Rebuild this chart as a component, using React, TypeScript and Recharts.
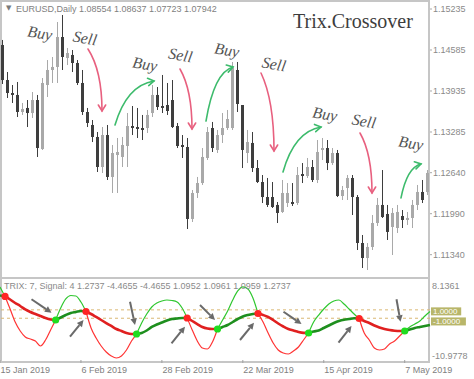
import React from 'react'
import { ComposedChart, Bar, Line, XAxis, YAxis, ReferenceLine, ReferenceDot } from 'recharts'

// EURUSD daily bars, one per trading day from 15 Jan 2019
const opens = [
  1.14664, 1.14109, 1.13903, 1.13872, 1.13602, 1.13666, 1.13586, 1.13792, 1.13015, 1.1403,
  1.14268, 1.14316, 1.14791, 1.14458, 1.14506, 1.14379, 1.14062, 1.13602, 1.13396, 1.13206,
  1.1273, 1.13237, 1.12572, 1.1292, 1.12889, 1.13063, 1.1338, 1.13364, 1.13348, 1.13348,
  1.13586, 1.13872, 1.13697, 1.13713, 1.13792, 1.1338, 1.13079, 1.13047, 1.11906, 1.12318,
  1.12476, 1.12873, 1.13348, 1.13, 1.13237, 1.13348, 1.13348, 1.14268, 1.13713, 1.12952,
  1.13111, 1.12714, 1.12492, 1.12254, 1.12254, 1.12128, 1.12017, 1.12159, 1.12175, 1.12159,
  1.12619, 1.12587, 1.1273, 1.12524, 1.13, 1.13031, 1.12793, 1.12952, 1.1227, 1.12397,
  1.12556, 1.12254, 1.11525, 1.11287, 1.11462, 1.11842, 1.12128, 1.11985, 1.11779, 1.11763,
  1.11953, 1.1189, 1.11922, 1.12128, 1.12334, 1.12334,
]
const highs = [
  1.14744, 1.14236, 1.1403, 1.14078, 1.13745, 1.13792, 1.13919, 1.13872, 1.14141, 1.14426,
  1.14474, 1.15029, 1.1514, 1.14617, 1.14585, 1.14426, 1.14268, 1.13666, 1.13475, 1.13285,
  1.13364, 1.13396, 1.13079, 1.1319, 1.13206, 1.13586, 1.13697, 1.13666, 1.13555, 1.13634,
  1.1403, 1.13998, 1.14189, 1.14062, 1.14109, 1.13428, 1.13237, 1.1319, 1.12365, 1.12572,
  1.13031, 1.13364, 1.13444, 1.13317, 1.13586, 1.13634, 1.14395, 1.14395, 1.13713, 1.13317,
  1.13285, 1.12841, 1.12603, 1.12556, 1.12492, 1.12175, 1.12524, 1.12476, 1.12476, 1.1273,
  1.12793, 1.12873, 1.12841, 1.13158, 1.1319, 1.13158, 1.13031, 1.13, 1.12429, 1.12603,
  1.12603, 1.12286, 1.11652, 1.11525, 1.11969, 1.12239, 1.12682, 1.12128, 1.1208, 1.12128,
  1.12048, 1.12017, 1.12207, 1.12445, 1.12524, 1.12682,
]
const lows = [
  1.14046, 1.13824, 1.13745, 1.13523, 1.13555, 1.13364, 1.13507, 1.12889, 1.13, 1.1384,
  1.14062, 1.14062, 1.14268, 1.14347, 1.14236, 1.1403, 1.13555, 1.13364, 1.13126, 1.12651,
  1.12635, 1.12524, 1.12318, 1.12318, 1.1273, 1.1273, 1.13237, 1.1319, 1.13158, 1.13269,
  1.13523, 1.13634, 1.13586, 1.13555, 1.13348, 1.13031, 1.12873, 1.11747, 1.11858, 1.12239,
  1.12445, 1.12841, 1.12968, 1.12952, 1.13111, 1.13317, 1.13317, 1.13602, 1.12714, 1.12793,
  1.12651, 1.12476, 1.12159, 1.12096, 1.1208, 1.11842, 1.12001, 1.12096, 1.12112, 1.12128,
  1.12476, 1.12556, 1.12492, 1.12476, 1.12841, 1.12682, 1.12762, 1.12254, 1.12207, 1.12207,
  1.11969, 1.11414, 1.11129, 1.11097, 1.11414, 1.11795, 1.11922, 1.11573, 1.11335, 1.11684,
  1.11763, 1.11811, 1.11763, 1.12048, 1.12159, 1.12286,
]
const closes = [
  1.14109, 1.13903, 1.13872, 1.13602, 1.1365, 1.13586, 1.13792, 1.13031, 1.14062, 1.14268,
  1.14316, 1.14791, 1.14474, 1.14537, 1.14379, 1.14062, 1.13602, 1.13428, 1.13206, 1.1273,
  1.13237, 1.12572, 1.12952, 1.12968, 1.13079, 1.1338, 1.13348, 1.13333, 1.13317, 1.13555,
  1.13872, 1.13681, 1.13666, 1.13618, 1.13364, 1.13063, 1.13047, 1.11906, 1.12318, 1.12476,
  1.12889, 1.13285, 1.13031, 1.13237, 1.13348, 1.13491, 1.143, 1.13729, 1.13, 1.13126,
  1.12714, 1.12492, 1.12254, 1.12128, 1.12096, 1.12001, 1.12318, 1.12318, 1.12143, 1.12603,
  1.12587, 1.1273, 1.12524, 1.12968, 1.13031, 1.12793, 1.12952, 1.1227, 1.12365, 1.12556,
  1.12254, 1.11525, 1.11287, 1.11462, 1.11842, 1.12128, 1.11937, 1.117, 1.12001, 1.12017,
  1.1189, 1.11922, 1.12128, 1.12334, 1.12207, 1.12635,
]

// TRIX(7) and its signal(4)
const trix = [
  6.47, 4.2, 1.21, -1.9, -4.05, -5.48, -5.96, -6.44, -7.63, -6.2,
  -3.81, -1.42, 1.45, 3.6, 4.43, 4.31, 2.88, 0.61, -3.33, -5.72,
  -7.63, -9.07, -10.02, -10.5, -10.02, -8.59, -6.44, -4.77, -2.14, 0.01,
  1.69, 2.64, 3.12, 3.36, 3.24, 2.88, 1.45, -0.94, -3.81, -6.44,
  -8.11, -8.35, -6.68, -3.57, -1.42, 0.73, 3.36, 5.51, 6.47, 5.99,
  3.84, 0.13, -1.9, -4.53, -6.92, -8.59, -9.3, -9.54, -8.83, -7.87,
  -6.2, -4.53, -1.9, -0.23, 1.21, 2.4, 3.12, 3.36, 2.4, 1.21,
  0.01, -1.06, -4.53, -6.2, -8.11, -8.59, -8.35, -7.15, -6.44, -5.24,
  -4.05, -3.09, -2.38, -1.66, -0.46, 0.61,
]
const signal = [
  4.43, 4.2, 3.48, 2.64, 1.93, 1.09, 0.49, 0.01, -0.46, -0.94,
  -1.3, -1.42, -0.82, -0.23, 0.25, 0.49, 0.73, 0.61, 0.01, -0.7,
  -1.42, -2.14, -2.85, -3.57, -4.05, -4.53, -4.77, -4.77, -4.53, -3.93,
  -3.09, -2.49, -2.02, -1.54, -1.18, -1.06, -0.94, -0.94, -1.66, -2.38,
  -3.09, -3.45, -3.57, -3.57, -3.09, -2.61, -1.9, -1.18, -0.58, -0.23,
  0.01, 0.13, -0.23, -0.7, -1.42, -2.26, -2.97, -3.57, -3.93, -4.29,
  -4.5, -4.53, -4.17, -3.93, -3.33, -2.73, -2.14, -1.66, -1.35, -1.18,
  -1.0, -1.06, -1.66, -2.14, -2.73, -3.21, -3.57, -3.81, -3.97, -4.05,
  -4.05, -3.69, -3.33, -3.09, -2.85, -2.61,
]

const dateTicks = [0, 16, 32, 48, 64, 80]
const dateLabels = ['15 Jan 2019', '6 Feb 2019', '28 Feb 2019', '22 Mar 2019', '15 Apr 2019', '7 May 2019']
const priceTicks = [1.1134, 1.1199, 1.1264, 1.13285, 1.13935, 1.14585, 1.15235]
const trixTicks = [8.1361, -10.9778]
const levels = [1, -1]

// annotations, in [bar, price] / [bar, trix value]
const signalWords = [
  { text: 'Buy', i: 7.5, p: 1.14855 },
  { text: 'Sell', i: 16.5, p: 1.14775 },
  { text: 'Buy', i: 28.5, p: 1.14363 },
  { text: 'Sell', i: 35.6, p: 1.14506 },
  { text: 'Buy', i: 44.9, p: 1.14585 },
  { text: 'Sell', i: 54.3, p: 1.14363 },
  { text: 'Buy', i: 64.5, p: 1.1357 },
  { text: 'Sell', i: 72.3, p: 1.13459 },
  { text: 'Buy', i: 81.7, p: 1.13111 },
]
const sellArrows = [
  [[17.1, 1.14601], [19.9, 1.13618]],
  [[35.5, 1.14284], [37.9, 1.13333]],
  [[51.7, 1.1422], [54.3, 1.12984]],
  [[71.5, 1.13269], [73.9, 1.12318]],
]
const buyArrows = [
  [[22.5, 1.13396], [30.3, 1.14094]],
  [[40.7, 1.13459], [46.1, 1.14316]],
  [[56.1, 1.12651], [63.7, 1.13364]],
  [[79.7, 1.12239], [83.7, 1.12778]],
]
const trixArrows = [
  [[5.8, 3.53], [9.8, 0.32]],
  [[13.5, -5.41], [16.2, -1.42]],
  [[25.5, 2.95], [26.5, -2.61]],
  [[33.8, -6.99], [36.5, -3.02]],
  [[39.5, 2.16], [42.5, -1.42]],
  [[47.5, -6.2], [50.3, -2.07]],
  [[56.2, 0.56], [59.8, -2.38]],
  [[67.2, -6.84], [69.8, -2.85]],
  [[78.8, 3.53], [79.6, -1.83]],
]

const SANS = "'Liberation Sans', Arial, sans-serif"
const SERIF = "'Liberation Serif', 'Times New Roman', serif"
const BULL = '#a9a9a9'
const BEAR = '#3e3e3e'
const FRAME = '#c6c6c6'
const PINK = '#e8607f'
const GREEN_ARROW = '#3dbb6c'

const side = trix.map((t, i) => Math.sign(t - signal[i]))
const rows = opens.map((open, i) => {
  const s = side[i]
  const cross = s === 0
  return {
    i,
    open,
    high: highs[i],
    low: lows[i],
    close: closes[i],
    trixUp: s >= 0 ? trix[i] : null,
    trixDn: s <= 0 ? trix[i] : null,
    sigUp: s >= 0 ? signal[i] : null,
    sigDn: s <= 0 ? signal[i] : null,
    cross: cross ? signal[i] : null,
    crossUp: cross && side[i + 1] > 0,
  }
})

const Candle = (p: any) => {
  const { x, y, width, height, payload } = p
  if (!payload) return <g />
  const { open, close, high, low } = payload
  const top = Math.min(y, y + height)
  const h = Math.abs(height)
  const k = h / (high - low)
  const cx = Math.round(x + width / 2)
  const bTop = top + (high - Math.max(open, close)) * k
  const bBot = top + (high - Math.min(open, close)) * k
  const col = close >= open ? BULL : BEAR
  return (
    <g>
      <rect x={cx - 1} y={top} width={1} height={h} fill={col} />
      <rect x={cx - 2} y={bTop} width={3} height={Math.max(1, bBot - bTop)} fill={col} />
    </g>
  )
}

const curvedArrow = (color: string, sell: boolean) => (p: any) => {
  const { x1, y1, x2, y2 } = p
  const qx = sell ? x2 : x1 + 0.3 * (x2 - x1)
  const qy = sell ? y1 + 0.35 * (y2 - y1) : y2 + 0.1 * Math.abs(y2 - y1)
  const a = Math.atan2(y2 - qy, x2 - qx)
  const L = 7
  const h1 = [x2 - L * Math.cos(a - 0.55), y2 - L * Math.sin(a - 0.55)]
  const h2 = [x2 - L * Math.cos(a + 0.55), y2 - L * Math.sin(a + 0.55)]
  return (
    <g fill="none" stroke={color} strokeWidth={1.6} strokeLinecap="round">
      <path d={`M${x1},${y1} Q${qx},${qy} ${x2},${y2}`} />
      <path d={`M${h1[0]},${h1[1]} L${x2},${y2} L${h2[0]},${h2[1]}`} />
    </g>
  )
}

const grayArrow = (p: any) => {
  const { x1, y1, x2, y2 } = p
  const a = Math.atan2(y2 - y1, x2 - x1)
  const bx = x2 - 6.5 * Math.cos(a)
  const by = y2 - 6.5 * Math.sin(a)
  const nx = -Math.sin(a) * 3.3
  const ny = Math.cos(a) * 3.3
  return (
    <g>
      <line x1={x1} y1={y1} x2={bx} y2={by} stroke="#6a6a6a" strokeWidth={2} />
      <polygon points={`${x2},${y2} ${bx + nx},${by + ny} ${bx - nx},${by - ny}`} fill="#6a6a6a" />
    </g>
  )
}

const wordShape = (text: string) => (p: any) => (
  <text
    x={p.cx}
    y={p.cy}
    transform={`rotate(10 ${p.cx} ${p.cy})`}
    textAnchor="middle"
    dominantBaseline="central"
    fontFamily={SERIF}
    fontStyle="italic"
    fontSize={16}
    fill="#555"
  >
    {text}
  </text>
)

const CrossDot = (p: any) => {
  if (p.value == null || p.cy == null) return <g key={`d${p.index}`} />
  return <circle key={`d${p.index}`} cx={p.cx} cy={p.cy} r={3.6} fill={p.payload.crossUp ? '#1fdc1f' : '#ff2424'} />
}

const DateTick = (p: any) => (
  <text x={p.x + 0.5} y={p.y + 8} fill="#808080" fontSize={9} fontFamily={SANS} textAnchor="start">
    {dateLabels[dateTicks.indexOf(p.payload.value)]}
  </text>
)

const TrixTick = (p: any) => (
  <text x={p.x} y={p.y + (p.payload.value > 0 ? 8.5 : -1.5)} fill="#8a8a8a" fontSize={9} fontFamily={SANS}>
    {p.payload.value.toFixed(4)}
  </text>
)

// olive price tag at the right end of a level line
const LevelTag = (p: any) => {
  const vb = p.viewBox
  if (!vb) return null
  const x = vb.x + vb.width + 1
  const top = vb.y + (p.value > 0 ? -2.5 : -0.8)
  return (
    <g>
      <rect x={x} y={top} width={p.text.length * 4.7 + 2} height={8} fill="#b8b66a" />
      <text x={x + 2} y={top + 6.8} fill="#fff" fontSize={8} fontFamily={SANS}>
        {p.text}
      </text>
    </g>
  )
}

export default function App() {
  return (
    <div style={{ position: 'absolute', left: 0, top: 0, width: 474, height: 379, background: '#fff', overflow: 'hidden' }}>
      {/* panel frames */}
      <div style={{ position: 'absolute', left: 0, top: 0, width: 430, height: 279, border: `2px solid ${FRAME}`, boxSizing: 'border-box' }} />
      <div style={{ position: 'absolute', left: 0, top: 277, width: 430, height: 86, border: `2px solid ${FRAME}`, boxSizing: 'border-box' }} />

      {/* price panel */}
      <div style={{ position: 'absolute', left: 0, top: 0 }}>
        <ComposedChart width={474} height={279} data={rows} margin={{ top: 2, right: 0, bottom: 2, left: 0 }} barCategoryGap={0} barGap={0}>
          <XAxis xAxisId="c" dataKey="i" type="category" hide />
          <XAxis xAxisId="n" dataKey="i" type="number" domain={[-0.5, 85.5]} hide />
          <YAxis
            orientation="right"
            width={44}
            domain={[1.10986, 1.15346]}
            ticks={priceTicks}
            interval={0}
            tickFormatter={(v: number) => v.toFixed(5)}
            tick={{ fill: '#8a8a8a', fontSize: 9, fontFamily: SANS }}
            tickSize={2}
            tickMargin={1}
            tickLine={{ stroke: '#aaa' }}
            axisLine={false}
          />
          <Bar xAxisId="c" dataKey={(d: any) => [d.low, d.high]} shape={(p: any) => <Candle {...p} />} isAnimationActive={false} />
          {sellArrows.map((s, k) => (
            <ReferenceLine key={`s${k}`} xAxisId="n" segment={[{ x: s[0][0], y: s[0][1] }, { x: s[1][0], y: s[1][1] }]} shape={curvedArrow(PINK, true)} />
          ))}
          {buyArrows.map((s, k) => (
            <ReferenceLine key={`b${k}`} xAxisId="n" segment={[{ x: s[0][0], y: s[0][1] }, { x: s[1][0], y: s[1][1] }]} shape={curvedArrow(GREEN_ARROW, false)} />
          ))}
          {signalWords.map((w, k) => (
            <ReferenceDot key={`w${k}`} xAxisId="n" x={w.i} y={w.p} r={1} shape={wordShape(w.text)} />
          ))}
        </ComposedChart>
      </div>

      {/* TRIX panel */}
      <div style={{ position: 'absolute', left: 0, top: 278 }}>
        <ComposedChart width={474} height={101} data={rows} margin={{ top: 2, right: 0, bottom: 0, left: 0 }}>
          <XAxis
            xAxisId="c"
            dataKey="i"
            type="category"
            ticks={dateTicks}
            interval={0}
            tick={(p: any) => <DateTick {...p} />}
            tickSize={3}
            tickLine={{ stroke: '#a0a0a0' }}
            axisLine={false}
            height={19}
          />
          <XAxis xAxisId="n" dataKey="i" type="number" domain={[-0.5, 85.5]} hide />
          <YAxis
            orientation="right"
            width={44}
            domain={[-10.9778, 8.1361]}
            ticks={trixTicks}
            interval={0}
            tick={(p: any) => <TrixTick {...p} />}
            tickSize={0}
            tickMargin={2}
            axisLine={false}
          />
          {levels.map((v) => (
            <ReferenceLine key={v} xAxisId="c" y={v} stroke="#d9b872" strokeDasharray="3 3" label={<LevelTag text={v.toFixed(4)} value={v} />} />
          ))}
          <Line xAxisId="c" dataKey="trixUp" type="monotone" stroke="#2fc72f" strokeWidth={1.2} dot={false} activeDot={false} isAnimationActive={false} />
          <Line xAxisId="c" dataKey="trixDn" type="monotone" stroke="#ff3434" strokeWidth={1.2} dot={false} activeDot={false} isAnimationActive={false} />
          <Line xAxisId="c" dataKey="sigUp" type="monotone" stroke="#1e8f1e" strokeWidth={2.6} dot={false} activeDot={false} isAnimationActive={false} />
          <Line xAxisId="c" dataKey="sigDn" type="monotone" stroke="#e02020" strokeWidth={2.6} dot={false} activeDot={false} isAnimationActive={false} />
          <Line xAxisId="c" dataKey="cross" stroke="none" dot={CrossDot} activeDot={false} isAnimationActive={false} />
          {trixArrows.map((s, k) => (
            <ReferenceLine key={`t${k}`} xAxisId="n" segment={[{ x: s[0][0], y: s[0][1] }, { x: s[1][0], y: s[1][1] }]} shape={grayArrow} />
          ))}
        </ComposedChart>
      </div>

      {/* captions */}
      <svg width={474} height={379} style={{ position: 'absolute', left: 0, top: 0, pointerEvents: 'none' }}>
        <text x={6} y={10} fontSize={7} fill="#7a7a7a" fontFamily="'DejaVu Sans', sans-serif">▼</text>
        <text x={16} y={11.5} fontSize={9} fill="#7f7f7f" fontFamily={SANS}>
          EURUSD,Daily 1.08554 1.08637 1.07723 1.07942
        </text>
        <text x={293} y={28} fontSize={20} fill="#3d3d3d" fontFamily={SERIF}>
          Trix.Crossover
        </text>
        <text x={4} y={288.5} fontSize={9} fill="#8a8a8a" fontFamily={SANS}>
          TRIX: 7, Signal: 4 1.2737 -4.4655 -4.4655 1.0952 1.0961 1.0959 1.2737
        </text>
      </svg>
    </div>
  )
}
